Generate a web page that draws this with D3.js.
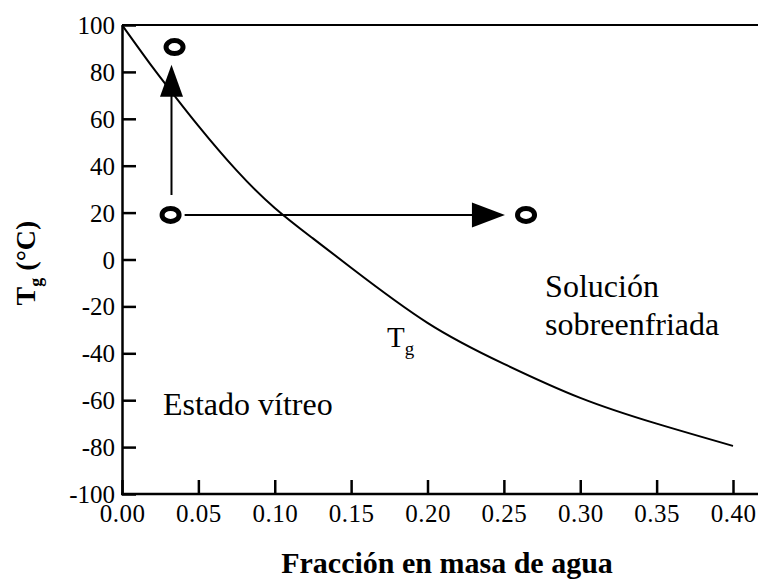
<!DOCTYPE html>
<html>
<head>
<meta charset="utf-8">
<script src="https://cdn.jsdelivr.net/npm/d3@7"></script>
<style>
  body { margin: 0; background: #fff; }
  svg text { font-family: 'Liberation Serif', 'Times New Roman', 'DejaVu Serif', serif; fill: #000; }
</style>
</head>
<body>
<script>
// Tg curve
var waterFraction = [0, 0.02, 0.033, 0.05, 0.075, 0.10, 0.125, 0.15, 0.20, 0.25, 0.30, 0.35, 0.40];
var tgValues = [100, 82, 71, 57, 38, 22, 9, -3.5, -27, -44.5, -59, -70, -79.5];

var xTicks = [0, 0.05, 0.10, 0.15, 0.20, 0.25, 0.30, 0.35, 0.40];
var yTicks = [-100, -80, -60, -40, -20, 0, 20, 40, 60, 80, 100];

// circles (start / end states) and arrows
var circleX = [0.0344, 0.0318, 0.2645];
var circleY = [90.6, 19, 19];
var arrowUp = { x: 0.0324, from: 27.5, to: 83 };
var arrowRight = { y: 19, from: 0.041, to: 0.2507 };

var serif = "'Liberation Serif', 'Times New Roman', 'DejaVu Serif', serif";

var svgWidth = 758;
var svgHeight = 581;

var chartMargin = { top: 25, right: 25, bottom: 87, left: 122 };
var frameRight = 758;

var svg = d3.select("body")
  .append("svg")
  .attr("width", svgWidth)
  .attr("height", svgHeight);

var xScale = d3.scaleLinear()
  .domain([0, 0.40])
  .range([chartMargin.left, 733]);

var yScale = d3.scaleLinear()
  .domain([-100, 100])
  .range([494, chartMargin.top]);

// frame: top line and bottom line run to the right edge
svg.append("line")
  .attr("x1", xScale(0)).attr("x2", frameRight)
  .attr("y1", yScale(100)).attr("y2", yScale(100))
  .attr("stroke", "#000").attr("stroke-width", 2);
svg.append("line")
  .attr("x1", xScale(0) - 1).attr("x2", frameRight)
  .attr("y1", yScale(-100)).attr("y2", yScale(-100))
  .attr("stroke", "#000").attr("stroke-width", 2.5);

// y axis
var yAxis = d3.axisLeft(yScale)
  .tickValues(yTicks)
  .tickSizeInner(-14)
  .tickSizeOuter(0)
  .tickPadding(7)
  .tickFormat(d => String(d));
var yG = svg.append("g")
  .attr("transform", `translate(${chartMargin.left}, 0)`)
  .call(yAxis)
  .attr("font-family", serif)
  .attr("font-size", 25);
yG.select(".domain").attr("stroke-width", 2.5);
yG.selectAll(".tick line").attr("stroke-width", 2.5);
yG.selectAll(".tick text")
  .attr("x", -7)
  .attr("dy", "0.34em");

// x axis (ticks inward)
var xAxis = d3.axisBottom(xScale)
  .tickValues(xTicks)
  .tickSizeInner(-14)
  .tickSizeOuter(0)
  .tickFormat(d3.format(".2f"));
var xG = svg.append("g")
  .attr("transform", `translate(0, ${yScale(-100)})`)
  .call(xAxis)
  .attr("font-family", serif)
  .attr("font-size", 25);
xG.select(".domain").remove();
xG.selectAll(".tick line").attr("stroke-width", 2.5);
xG.selectAll(".tick text")
  .attr("y", 28)
  .attr("dy", 0)
  .attr("letter-spacing", 0.5);

// Tg curve
var line = d3.line()
  .x(d => xScale(d[0]))
  .y(d => yScale(d[1]))
  .curve(d3.curveNatural);

svg.append("path")
  .datum(d3.zip(waterFraction, tgValues))
  .attr("d", line)
  .attr("fill", "none")
  .attr("stroke", "#000")
  .attr("stroke-width", 2);

// arrows
svg.append("line")
  .attr("x1", xScale(arrowUp.x)).attr("x2", xScale(arrowUp.x))
  .attr("y1", yScale(arrowUp.from)).attr("y2", yScale(arrowUp.to) + 30)
  .attr("stroke", "#000").attr("stroke-width", 2);
var ux = xScale(arrowUp.x), uy = yScale(arrowUp.to);
svg.append("path")
  .attr("d", `M${ux},${uy} L${ux - 11.5},${uy + 32} L${ux + 11.5},${uy + 32} Z`)
  .attr("fill", "#000");

svg.append("line")
  .attr("x1", xScale(arrowRight.from)).attr("x2", xScale(arrowRight.to) - 30)
  .attr("y1", yScale(arrowRight.y)).attr("y2", yScale(arrowRight.y))
  .attr("stroke", "#000").attr("stroke-width", 2);
var rx = xScale(arrowRight.to), ry = yScale(arrowRight.y);
svg.append("path")
  .attr("d", `M${rx},${ry} L${rx - 33},${ry - 12.5} L${rx - 33},${ry + 12.5} Z`)
  .attr("fill", "#000");

// state circles
svg.selectAll(".state")
  .data(d3.zip(circleX, circleY))
  .enter()
  .append("ellipse")
  .attr("class", "state")
  .attr("cx", d => xScale(d[0]))
  .attr("cy", d => yScale(d[1]))
  .attr("rx", 8.5)
  .attr("ry", 6.5)
  .attr("fill", "none")
  .attr("stroke", "#000")
  .attr("stroke-width", 5);

// region labels
svg.append("text")
  .attr("x", xScale(0.0268)).attr("y", yScale(-66.3))
  .style("font-size", "32px")
  .text("Estado vítreo");

svg.append("text")
  .attr("x", xScale(0.277)).attr("y", yScale(-16))
  .style("font-size", "32px")
  .text("Solución");
svg.append("text")
  .attr("x", xScale(0.277)).attr("y", yScale(-32.2))
  .style("font-size", "32px")
  .text("sobreenfriada");

var tg = svg.append("text")
  .attr("x", xScale(0.1735)).attr("y", yScale(-37.3))
  .style("font-size", "29px");
tg.append("tspan").text("T");
tg.append("tspan").attr("dy", 8).style("font-size", "19px").text("g");

// axis titles
svg.append("text")
  .attr("x", (chartMargin.left + frameRight) / 2 + 7)
  .attr("y", 573)
  .attr("text-anchor", "middle")
  .style("font-size", "30px")
  .style("font-weight", "bold")
  .text("Fracción en masa de agua");

var yTitle = svg.append("text")
  .attr("transform", "translate(35, 263) rotate(-90)")
  .attr("text-anchor", "middle")
  .style("font-size", "28px")
  .style("font-weight", "bold");
yTitle.append("tspan").text("T");
yTitle.append("tspan").attr("dy", 7).style("font-size", "18px").text("g");
yTitle.append("tspan").attr("dy", -7).text(" (°C)");
</script>
</body>
</html>
